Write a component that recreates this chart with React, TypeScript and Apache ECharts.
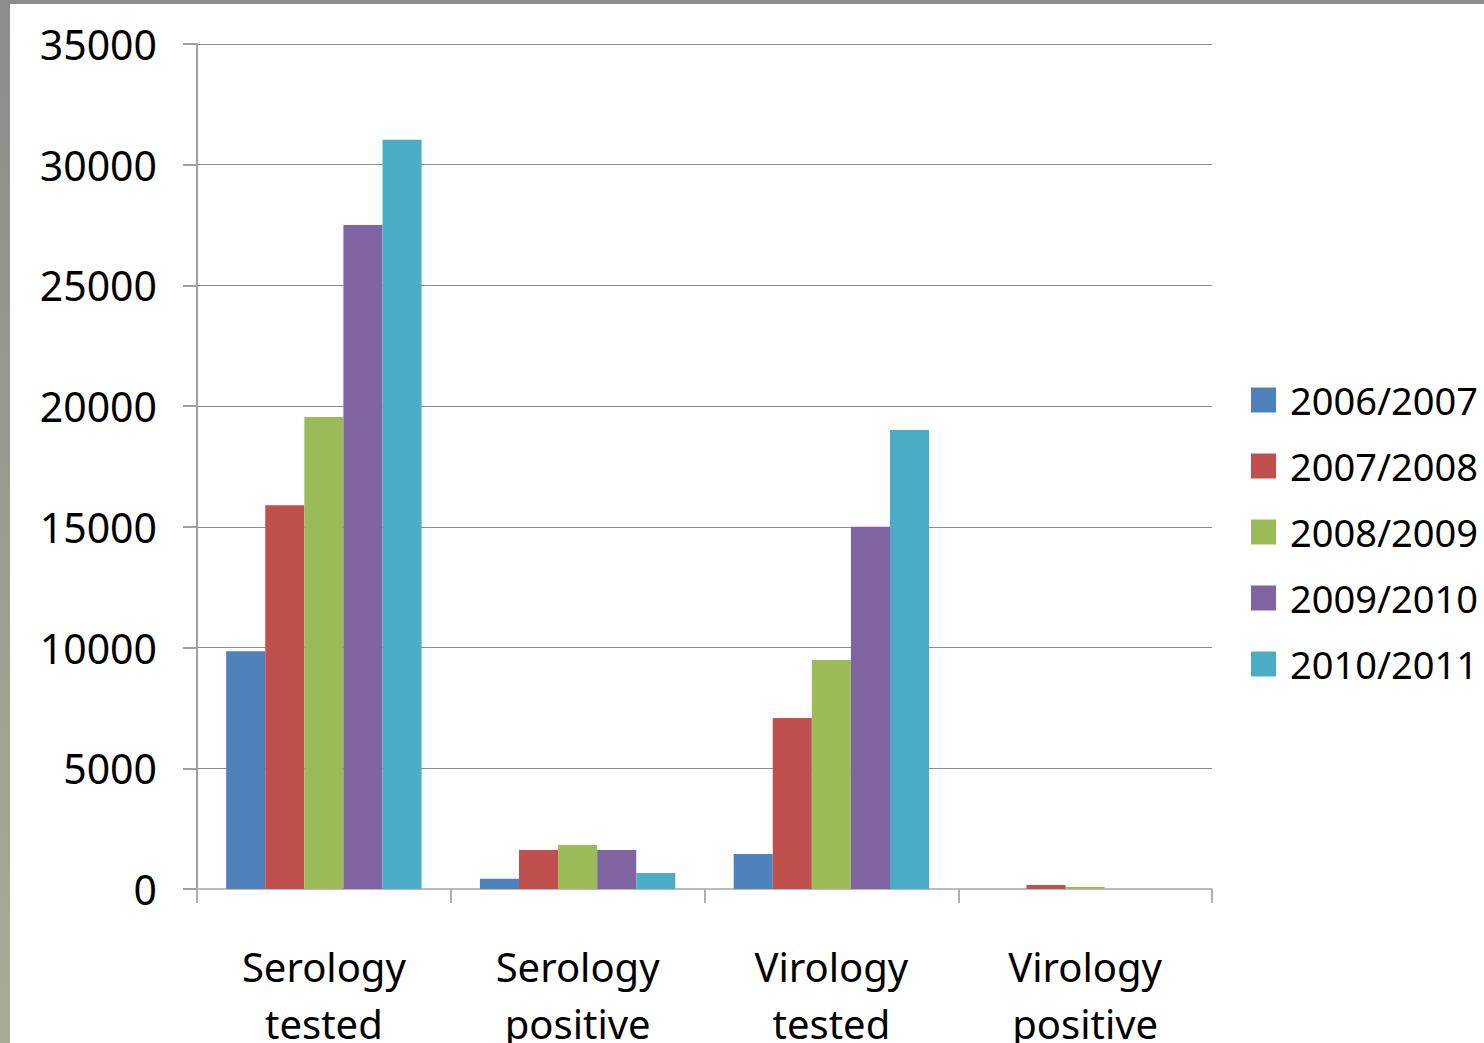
import React, { useEffect, useRef } from "react";
import * as echarts from "echarts";

const categories = ["Serology\ntested", "Serology\npositive", "Virology\ntested", "Virology\npositive"];
const seasons = ["2006/2007", "2007/2008", "2008/2009", "2009/2010", "2010/2011"];
const s2006 = [9850, 420, 1450, 0];
const s2007 = [15900, 1620, 7080, 165];
const s2008 = [19550, 1820, 9490, 80];
const s2009 = [27500, 1620, 15000, 0];
const s2010 = [31030, 660, 19010, 0];
const colors = ["#4F81BD", "#C0504D", "#9BBB59", "#8064A2", "#4BACC6"];
const yTicks = [0, 5000, 10000, 15000, 20000, 25000, 30000, 35000];

const FONT = "'Noto Sans', 'Open Sans', sans-serif";

export default function App() {
  const ref = useRef<HTMLDivElement>(null);
  useEffect(() => {
    if (!ref.current) return;
    const chart = echarts.init(ref.current, null, { renderer: "svg" });
    const seriesData = [s2006, s2007, s2008, s2009, s2010];
    chart.setOption({
      animation: false,
      backgroundColor: {
        type: "linear", x: 0, y: 0, x2: 0, y2: 1,
        colorStops: [
          { offset: 0, color: "#8c8c8c" },
          { offset: 1, color: "#a8ac96" },
        ],
      },
      graphic: [
        { type: "rect", left: 10, top: 4, shape: { x: 0, y: 0, width: 1474, height: 1039 }, style: { fill: "#ffffff" }, z: -10 },
      ],
      grid: { left: 197, right: 272, top: 44, bottom: 154, containLabel: false, outerBoundsMode: "none" },
      legend: {
        orient: "vertical",
        left: 1251,
        top: 380,
        padding: 0,
        itemWidth: 25,
        itemHeight: 25,
        itemGap: 26,
        icon: "rect",
        data: seasons,
        textStyle: { fontFamily: FONT, fontSize: 38, color: "#000", lineHeight: 40, padding: [0, 0, 0, 9] },
      },
      xAxis: {
        type: "category",
        data: categories,
        axisLine: { lineStyle: { color: "#bcbcbc", width: 2 } },
        axisTick: { show: true, length: 14, lineStyle: { color: "#b0b0b0", width: 2 } },
        axisLabel: { fontFamily: FONT, fontSize: 40, color: "#000", lineHeight: 57, margin: 49 },
      },
      yAxis: {
        type: "value",
        min: 0,
        max: yTicks[yTicks.length - 1],
        interval: 5000,
        axisLine: { show: true, lineStyle: { color: "#a0a0a0", width: 2 } },
        axisTick: { show: true, length: 14, lineStyle: { color: "#a0a0a0", width: 2 } },
        axisLabel: { fontFamily: FONT, fontSize: 41, color: "#000", margin: 40, padding: [10, 0, 0, 0], formatter: (v: number) => String(v) },
        splitLine: { lineStyle: { color: "#8c8c8c", width: 1 } },
      },
      series: seasons.map((name, i) => ({
        name,
        type: "bar",
        data: seriesData[i],
        itemStyle: { color: colors[i] },
        barGap: "0%",
        barCategoryGap: "23%",
      })),
    });
    return () => chart.dispose();
  }, []);
  return <div ref={ref} style={{ position: "fixed", left: 0, top: 0, width: 1484, height: 1043 }} />;
}
